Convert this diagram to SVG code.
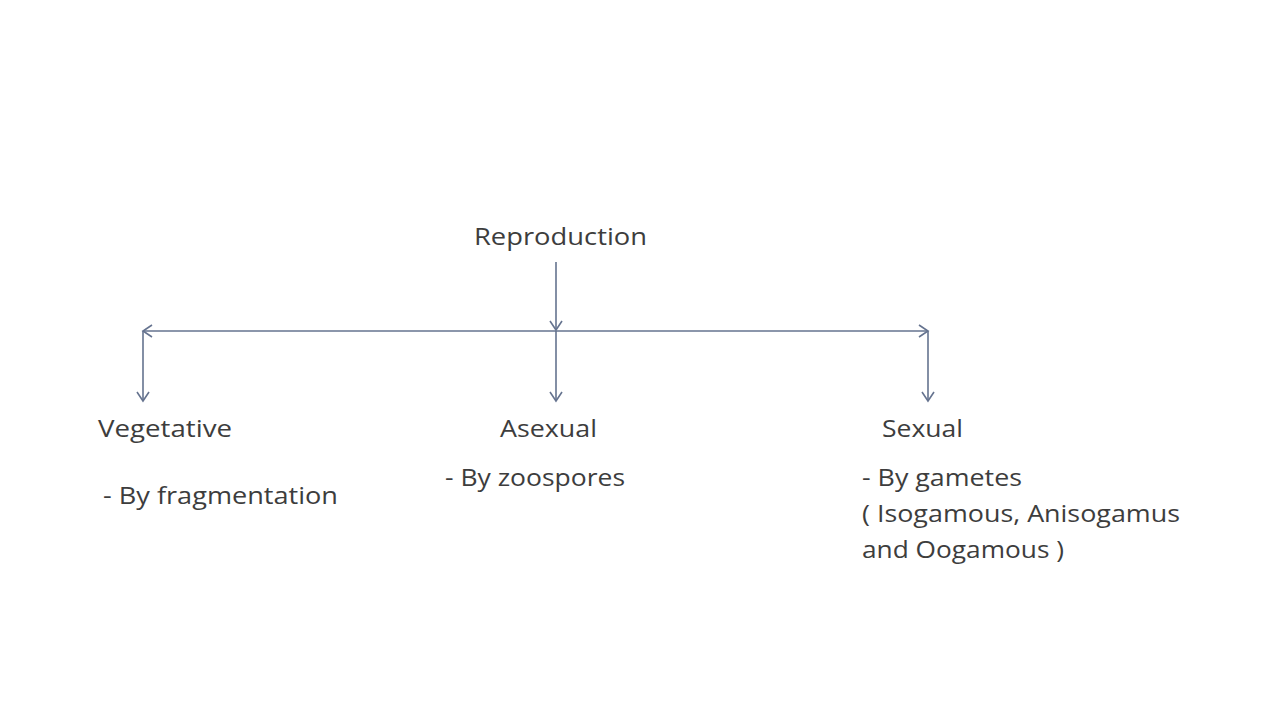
<svg xmlns="http://www.w3.org/2000/svg" width="1280" height="720" viewBox="0 0 1280 720">
<style>
.t{font-family:"Open Sans","Liberation Sans",sans-serif;font-size:23px;fill:#3d3d3d}
.c{stroke:#65738f;stroke-width:1.6;fill:none}
</style>
<defs>
<marker id="ah" markerUnits="userSpaceOnUse" markerWidth="20" markerHeight="20" viewBox="-12 -10 14 20" refX="0" refY="0" orient="auto">
<path d="M-9,-6 L0,0 L-9,6" fill="none" stroke="#65738f" stroke-width="1.6"/>
</marker>
</defs>
<rect width="1280" height="720" fill="#ffffff"/>
<g id="connectors">
<line class="c" x1="556" y1="262" x2="556" y2="330" marker-end="url(#ah)"/>
<line class="c" x1="556" y1="331" x2="143" y2="331" marker-end="url(#ah)"/>
<line class="c" x1="556" y1="331" x2="928" y2="331" marker-end="url(#ah)"/>
<line class="c" x1="143" y1="331" x2="143" y2="401" marker-end="url(#ah)"/>
<line class="c" x1="556" y1="331" x2="556" y2="401" marker-end="url(#ah)"/>
<line class="c" x1="928" y1="331" x2="928" y2="401" marker-end="url(#ah)"/>
</g>
<g id="reproduction"><text class="t" x="474" y="245" textLength="173" lengthAdjust="spacingAndGlyphs">Reproduction</text></g>
<g id="vegetative">
<text class="t" x="98" y="437" textLength="134" lengthAdjust="spacingAndGlyphs">Vegetative</text>
<text class="t" x="103" y="504" textLength="235" lengthAdjust="spacingAndGlyphs">- By fragmentation</text>
</g>
<g id="asexual">
<text class="t" x="500" y="437" textLength="97" lengthAdjust="spacingAndGlyphs">Asexual</text>
<text class="t" x="445" y="486" textLength="180" lengthAdjust="spacingAndGlyphs">- By zoospores</text>
</g>
<g id="sexual">
<text class="t" x="882" y="437" textLength="81" lengthAdjust="spacingAndGlyphs">Sexual</text>
<text class="t" x="862" y="486" textLength="160" lengthAdjust="spacingAndGlyphs">- By gametes</text>
<text class="t" x="862" y="522" textLength="318" lengthAdjust="spacingAndGlyphs">( Isogamous, Anisogamus</text>
<text class="t" x="862" y="558" textLength="202" lengthAdjust="spacingAndGlyphs">and Oogamous )</text>
</g>
</svg>
